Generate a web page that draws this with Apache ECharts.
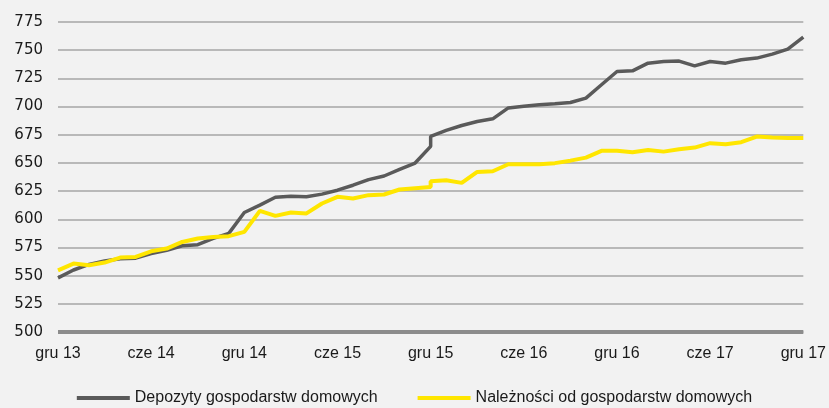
<!DOCTYPE html>
<html>
<head>
<meta charset="utf-8">
<script src="https://cdn.jsdelivr.net/npm/echarts@6/dist/echarts.min.js"></script>
<style>
  html, body { margin: 0; padding: 0; background: #f2f2f2; }
  #chart { width: 829px; height: 408px; }
</style>
</head>
<body>
<div id="chart"></div>
<script>
// months (gru 15 appears twice: break in the series)
var months = [
  '2013-12', '2014-01', '2014-02', '2014-03', '2014-04', '2014-05', '2014-06', '2014-07', '2014-08', '2014-09', '2014-10', '2014-11',
  '2014-12', '2015-01', '2015-02', '2015-03', '2015-04', '2015-05', '2015-06', '2015-07', '2015-08', '2015-09', '2015-10', '2015-11',
  '2015-12', '2015-12', '2016-01', '2016-02', '2016-03', '2016-04', '2016-05', '2016-06', '2016-07', '2016-08', '2016-09', '2016-10',
  '2016-11', '2016-12', '2017-01', '2017-02', '2017-03', '2017-04', '2017-05', '2017-06', '2017-07', '2017-08', '2017-09', '2017-10',
  '2017-11', '2017-12'
];

var depozyty = [
  548, 555, 560, 563, 565, 565.5, 569.5, 572.5, 576.5, 577.5, 583, 587.5,
  606, 612.5, 619.5, 620.5, 620, 622.3, 625.8, 630.2, 635.2, 638.4, 644.3, 649.9,
  664.7, 673.5, 678.8, 683.2, 686.7, 689.1, 698.8, 700.3, 701.5, 702.4, 703.6, 707.5,
  719.3, 731.1, 731.7, 738.5, 740, 740.3, 736.1, 740, 738.5, 741.5, 743, 746.5,
  751, 761.6
];

var naleznosci = [
  554.7, 560.7, 559.2, 561.6, 566, 566.6, 571.6, 574, 579.9, 582.9, 584.3, 585,
  588.8, 607.5, 603, 606, 605.2, 614, 619.9, 618.5, 621.4, 622, 626.4, 627.6,
  628.7, 633.7, 634.6, 632.3, 642, 642.6, 648.8, 648.8, 648.8, 649.8, 652, 654.7,
  660.7, 660.7, 659.5, 661.5, 660, 662.2, 663.6, 667.5, 666.6, 668.4, 673.4, 672.5,
  672, 672
];

var tickLabels = ['gru 13', 'cze 14', 'gru 14', 'cze 15', 'gru 15', 'cze 16', 'gru 16', 'cze 17', 'gru 17'];

var seriesNames = ['Depozyty gospodarstw domowych', 'Należności od gospodarstw domowych'];

// month index counted from gru 13
function monthIdx(s) {
  var p = s.split('-');
  return (+p[0] - 2013) * 12 + (+p[1]) - 12;
}

function pairs(vals) {
  return vals.map(function (v, i) { return [monthIdx(months[i]), v]; });
}

var chart = echarts.init(document.getElementById('chart'));

var option = {
  backgroundColor: '#f2f2f2',
  animation: false,
  grid: { left: 58, right: 23, top: 22, bottom: 76, containLabel: false },
  xAxis: {
    type: 'value',
    min: 0,
    max: 48,
    interval: 6,
    axisLine: { show: false },
    axisTick: { show: false },
    splitLine: { show: false },
    axisLabel: {
      margin: 14,
      color: '#1a1a1a',
      fontFamily: 'Liberation Sans',
      fontSize: 16,
      formatter: function (v) { return tickLabels[v / 6]; }
    }
  },
  yAxis: {
    type: 'value',
    min: 500,
    max: 775,
    interval: 25,
    axisLine: { show: false },
    axisTick: { show: false },
    axisLabel: {
      margin: 15,
      color: '#1a1a1a',
      fontFamily: 'DejaVu Sans',
      fontSize: 15
    },
    splitLine: {
      lineStyle: {
        color: ['#8c8c8c', '#a6a6a6', '#a6a6a6', '#a6a6a6', '#a6a6a6', '#a6a6a6', '#a6a6a6', '#a6a6a6', '#a6a6a6', '#a6a6a6', '#a6a6a6', '#a6a6a6'],
        width: 1.5
      }
    }
  },
  legend: {
    top: 385,
    left: 'center',
    itemWidth: 53,
    itemHeight: 4,
    itemGap: 40,
    icon: 'rect',
    textStyle: { color: '#1a1a1a', fontFamily: 'Liberation Sans', fontSize: 16 },
    data: seriesNames
  },
  series: [
    {
      name: seriesNames[0],
      type: 'line',
      data: pairs(depozyty),
      showSymbol: false,
      color: '#5a5a5a',
      lineStyle: { width: 3.5, color: '#5a5a5a' }
    },
    {
      name: seriesNames[1],
      type: 'line',
      data: pairs(naleznosci),
      showSymbol: false,
      color: '#ffe600',
      lineStyle: { width: 4, color: '#ffe600' }
    },
    {
      // thick base line at 500
      type: 'line',
      data: [[0, 500], [48, 500]],
      showSymbol: false,
      silent: true,
      z: 1,
      lineStyle: { width: 4, color: '#8c8c8c' }
    }
  ]
};

chart.setOption(option);
</script>
</body>
</html>
